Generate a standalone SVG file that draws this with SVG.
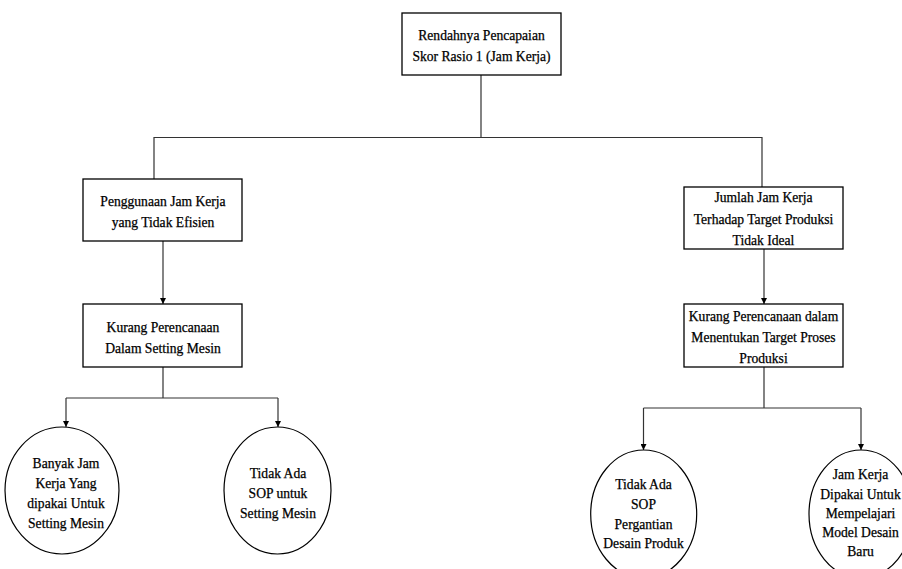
<svg xmlns="http://www.w3.org/2000/svg" width="902" height="569" viewBox="0 0 902 569">
<style>
.box{fill:#fff;stroke:#000;stroke-width:1.3}
.ell{fill:#fff;stroke:#000;stroke-width:1.2}
.t{font-family:"Liberation Serif","Times New Roman",serif;font-size:13.6px;fill:#000;stroke:#000;stroke-width:0.25;text-anchor:middle}
.c{fill:none;stroke:#333;stroke-width:1.2}
</style>
<defs>
<marker id="ah" viewBox="0 0 8 8" refX="8" refY="4" markerWidth="6" markerHeight="6" orient="auto" markerUnits="userSpaceOnUse">
<path d="M0,0 L8,4 L0,8 Z" fill="#000"/>
</marker>
</defs>
<rect width="902" height="569" fill="#fff"/>
<g id="connectors">
<path class="c" d="M481,75 V137.5 M154,179 V137.5 H762 V187"/>
<path class="c" d="M163,241 V304" marker-end="url(#ah)"/>
<path class="c" d="M163,367 V398 M66,398 H278"/>
<path class="c" d="M66,398 V427" marker-end="url(#ah)"/>
<path class="c" d="M278,398 V427" marker-end="url(#ah)"/>
<path class="c" d="M764,249 V304" marker-end="url(#ah)"/>
<path class="c" d="M764,367 V408 M643.5,408 H861"/>
<path class="c" d="M643.5,408 V450" marker-end="url(#ah)"/>
<path class="c" d="M861,408 V450" marker-end="url(#ah)"/>
</g>
<g id="n-root">
<rect class="box" x="402" y="13" width="159" height="62"/>
<text class="t" x="481.5" y="39.5">Rendahnya Pencapaian</text>
<text class="t" x="481.5" y="60.5">Skor Rasio 1 (Jam Kerja)</text>
</g>
<g id="n-left1">
<rect class="box" x="83" y="179" width="159" height="62"/>
<text class="t" x="163" y="205.7">Penggunaan Jam Kerja</text>
<text class="t" x="163" y="226.7">yang Tidak Efisien</text>
</g>
<g id="n-left2">
<rect class="box" x="83" y="304" width="159" height="63"/>
<text class="t" x="163" y="332.3">Kurang Perencanaan</text>
<text class="t" x="163" y="353.3">Dalam Setting Mesin</text>
</g>
<g id="n-right1">
<rect class="box" x="684" y="187" width="159" height="62"/>
<text class="t" x="763.5" y="202.3">Jumlah Jam Kerja</text>
<text class="t" x="763.5" y="223.5">Terhadap Target Produksi</text>
<text class="t" x="763.5" y="244.7">Tidak Ideal</text>
</g>
<g id="n-right2">
<rect class="box" x="684" y="304" width="159" height="63"/>
<text class="t" x="763.5" y="320.7">Kurang Perencanaan dalam</text>
<text class="t" x="763.5" y="341.8">Menentukan Target Proses</text>
<text class="t" x="763.5" y="363">Produksi</text>
</g>
<g id="n-e1">
<ellipse class="ell" cx="62" cy="490.5" rx="57" ry="63.5"/>
<text class="t" x="66" y="467.7">Banyak Jam</text>
<text class="t" x="66" y="488">Kerja Yang</text>
<text class="t" x="66" y="508">dipakai Untuk</text>
<text class="t" x="66" y="527.7">Setting Mesin</text>
</g>
<g id="n-e2">
<ellipse class="ell" cx="277.5" cy="490.5" rx="53.5" ry="63.5"/>
<text class="t" x="278" y="478.3">Tidak Ada</text>
<text class="t" x="278" y="498">SOP untuk</text>
<text class="t" x="278" y="517.7">Setting Mesin</text>
</g>
<g id="n-e3">
<ellipse class="ell" cx="643.7" cy="514" rx="53" ry="64"/>
<text class="t" x="643.5" y="489.3">Tidak Ada</text>
<text class="t" x="643.5" y="509">SOP</text>
<text class="t" x="643.5" y="528.5">Pergantian</text>
<text class="t" x="643.5" y="547.7">Desain Produk</text>
</g>
<g id="n-e4">
<ellipse class="ell" cx="861" cy="514" rx="52" ry="64"/>
<text class="t" x="860.5" y="479.3">Jam Kerja</text>
<text class="t" x="860.5" y="499">Dipakai Untuk</text>
<text class="t" x="860.5" y="518.3">Mempelajari</text>
<text class="t" x="860.5" y="537.3">Model Desain</text>
<text class="t" x="860.5" y="556">Baru</text>
</g>
</svg>
